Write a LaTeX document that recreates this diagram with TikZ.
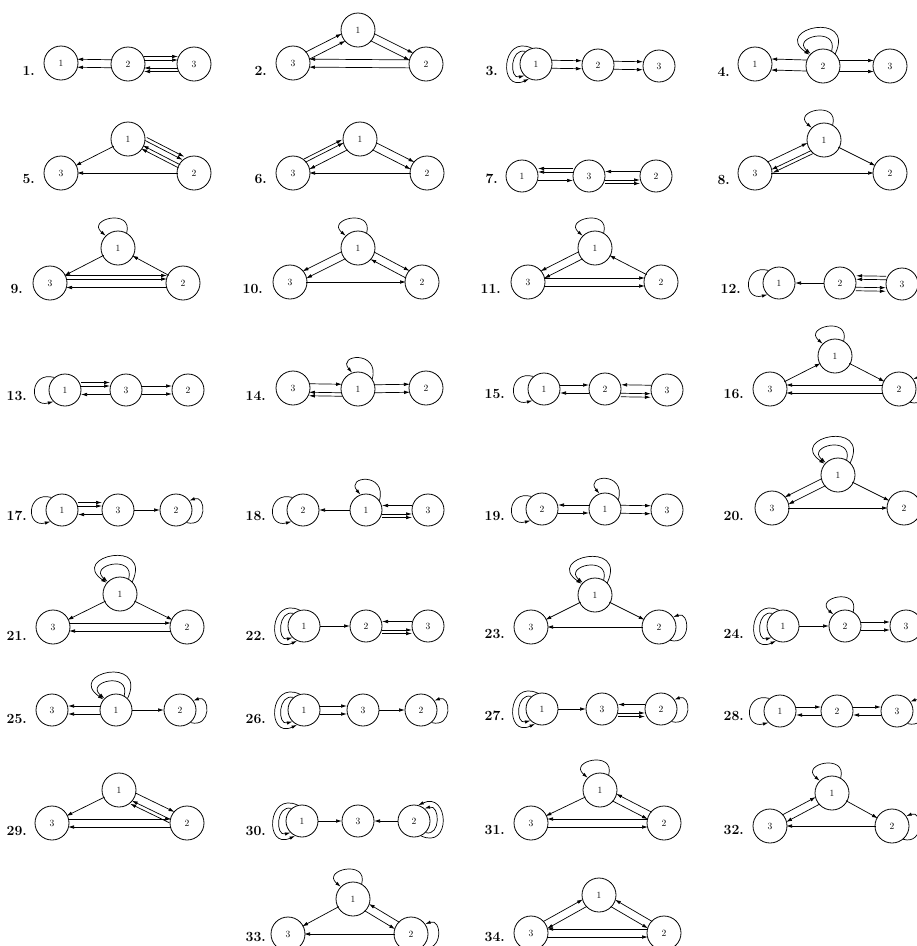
\documentclass[tikz,border=0pt]{standalone}
\usepackage{fontspec}
\usepackage{tikz}
\usetikzlibrary{arrows.meta,calc}

\begin{document}
\begin{tikzpicture}[x=1pt,y=-1pt,
  st/.style={circle,draw,line width=0.8pt,minimum size=34pt,inner sep=0pt,font=\fontsize{9.5}{10}\selectfont},
  sm/.style={st,minimum size=32pt},
  num/.style={anchor=base east,inner sep=0pt,font=\fontsize{14}{17}\selectfont\bfseries},
  e/.style={line width=0.7pt,-{Latex[length=6pt,width=3.6pt]},shorten <=16pt,shorten >=16pt,ofs=0pt},
  ofs/.style={to path={($(\tikztostart)!#1!90:(\tikztotarget)$) -- ($(\tikztotarget)!#1!-90:(\tikztostart)$)}},
  lp/.style={line width=0.7pt,-{Latex[length=5.5pt,width=3.4pt]}},
  tl/.style={to path={(\tikztostart.60) .. controls +(75:26pt) and +(140:26pt) .. (\tikztostart.135)}},
  tr/.style={to path={(\tikztostart.35) .. controls +(75:30pt) and +(130:24pt) .. (\tikztostart.110)}},
  tlo/.style={to path={(\tikztostart.45) .. controls +(65:48pt) and +(145:46pt) .. (\tikztostart.140)}},
  ll/.style={to path={(\tikztostart.130) .. controls +(165:26pt) and +(195:26pt) .. (\tikztostart.225)}},
  llo/.style={to path={(\tikztostart.105) .. controls +(155:34pt) and +(205:34pt) .. (\tikztostart.245)}},
  lli/.style={to path={(\tikztostart.130) .. controls +(165:16pt) and +(195:16pt) .. (\tikztostart.225)}},
  rl/.style={to path={(\tikztostart.310) .. controls +(345:22pt) and +(20:18pt) .. (\tikztostart.35)}},
  rlo/.style={to path={(\tikztostart.295) .. controls +(335:34pt) and +(25:34pt) .. (\tikztostart.75)}},
  rli/.style={to path={(\tikztostart.315) .. controls +(345:16pt) and +(15:16pt) .. (\tikztostart.50)}}]
\useasboundingbox (0,0) rectangle (917,946);

\foreach \t/\x/\y in {1/35/75,2/267/75,3/498/75,4/730/76,5/35/183,6/267/183,7/498/183,8/730/184,
  9/23/293,10/263/293,11/501/293,12/741/293,13/27/400,14/266/400,15/505/398,16/744/398,
  17/27/520,18/266/520,19/505/520,20/744/520,21/27/640,22/266/640,23/505/638,24/744/638,
  25/27/723,26/266/723,27/505/720,28/744/720,29/27/835,30/266/835,31/505/834,32/744/834,
  33/266/941,34/505/941}
  \node[num] (lab\t) at (\x,\y) {\t.};

\foreach \k/\x/\y in {1/61/63,2/128/64,3/194/64} \node[st] (g1n\k) at (\x,\y) {\k};
\foreach \k/\x/\y in {1/358/30,3/293/63,2/426/64} \node[st] (g2n\k) at (\x,\y) {\k};
\foreach \k/\x/\y in {1/536/64,2/598/65,3/659/66} \node[sm] (g3n\k) at (\x,\y) {\k};
\foreach \k/\x/\y in {1/755/64,2/823/66,3/890/66} \node[st] (g4n\k) at (\x,\y) {\k};
\foreach \k/\x/\y in {1/128/139,3/61/173,2/194/173} \node[st] (g5n\k) at (\x,\y) {\k};
\foreach \k/\x/\y in {1/360/139,3/293/173,2/427/173} \node[st] (g6n\k) at (\x,\y) {\k};
\foreach \k/\x/\y in {1/522/176,3/589/176,2/656/176} \node[sm] (g7n\k) at (\x,\y) {\k};
\foreach \k/\x/\y in {1/824/140,3/755/173,2/890/173} \node[st] (g8n\k) at (\x,\y) {\k};
\foreach \k/\x/\y in {1/118/248,3/50/283,2/183/283} \node[st] (g9n\k) at (\x,\y) {\k};
\foreach \k/\x/\y in {1/358/248,3/290/282,2/422/282} \node[st] (g10n\k) at (\x,\y) {\k};
\foreach \k/\x/\y in {1/595/248,3/528/282,2/661/282} \node[st] (g11n\k) at (\x,\y) {\k};
\foreach \k/\x/\y in {1/779/283,2/840/283,3/902/284} \node[sm] (g12n\k) at (\x,\y) {\k};
\foreach \k/\x/\y in {1/65/390,3/126/390,2/188/390} \node[sm] (g13n\k) at (\x,\y) {\k};
\foreach \k/\x/\y in {3/293/388,1/358/389,2/426/388} \node[st] (g14n\k) at (\x,\y) {\k};
\foreach \k/\x/\y in {1/544/389,2/605/389,3/667/390} \node[sm] (g15n\k) at (\x,\y) {\k};
\foreach \k/\x/\y in {1/835/356,3/770/389,2/899/389} \node[st] (g16n\k) at (\x,\y) {\k};
\foreach \k/\x/\y in {1/62/510,3/118/510,2/176/510} \node[sm] (g17n\k) at (\x,\y) {\k};
\foreach \k/\x/\y in {2/303/510,1/366/510,3/428/510} \node[sm] (g18n\k) at (\x,\y) {\k};
\foreach \k/\x/\y in {2/542/509,1/605/509,3/667/510} \node[sm] (g19n\k) at (\x,\y) {\k};
\foreach \k/\x/\y in {1/838/475,3/772/508,2/904/508} \node[st] (g20n\k) at (\x,\y) {\k};
\foreach \k/\x/\y in {1/120/594,3/53/627,2/187/627} \node[st] (g21n\k) at (\x,\y) {\k};
\foreach \k/\x/\y in {1/304/626,2/366/626,3/428/626} \node[sm] (g22n\k) at (\x,\y) {\k};
\foreach \k/\x/\y in {1/595/595,3/531/627,2/659/627} \node[st] (g23n\k) at (\x,\y) {\k};
\foreach \k/\x/\y in {1/783/626,2/845/626,3/906/626} \node[sm] (g24n\k) at (\x,\y) {\k};
\foreach \k/\x/\y in {3/52/710,1/116/710,2/180/710} \node[sm] (g25n\k) at (\x,\y) {\k};
\foreach \k/\x/\y in {1/304/710,3/363/710,2/421/710} \node[sm] (g26n\k) at (\x,\y) {\k};
\foreach \k/\x/\y in {1/542/709,3/602/709,2/661/709} \node[sm] (g27n\k) at (\x,\y) {\k};
\foreach \k/\x/\y in {1/780/711,2/837/711,3/897/711} \node[sm] (g28n\k) at (\x,\y) {\k};
\foreach \k/\x/\y in {1/119/790,3/52/823,2/187/823} \node[st] (g29n\k) at (\x,\y) {\k};
\foreach \k/\x/\y in {1/302/821,3/358/821,2/414/821} \node[sm] (g30n\k) at (\x,\y) {\k};
\foreach \k/\x/\y in {1/600/790,3/531/823,2/664/823} \node[st] (g31n\k) at (\x,\y) {\k};
\foreach \k/\x/\y in {1/832/793,3/770/826,2/892/826} \node[st] (g32n\k) at (\x,\y) {\k};
\foreach \k/\x/\y in {1/353/899,3/288/934,2/411/934} \node[st] (g33n\k) at (\x,\y) {\k};
\foreach \k/\x/\y in {1/599/895,3/531/933,2/664/933} \node[st] (g34n\k) at (\x,\y) {\k};

\draw[e] (g1n2) edge[ofs=4pt] (g1n1) edge[ofs=-4pt] (g1n1) edge[ofs=7.5pt] (g1n3) edge[ofs=4pt] (g1n3)
  (g1n3) edge[ofs=4pt] (g1n2) edge[ofs=7.5pt] (g1n2);
\draw[e] (g2n3) edge[ofs=4pt] (g2n1) edge[ofs=-4pt] (g2n1)
  (g2n1) edge[ofs=4pt] (g2n2) edge[ofs=-4pt] (g2n2)
  (g2n2) edge[ofs=4pt] (g2n3) edge[ofs=-4pt] (g2n3);
\draw[e] (g3n1) edge[ofs=4pt] (g3n2) edge[ofs=-4pt] (g3n2)
  (g3n2) edge[ofs=4pt] (g3n3) edge[ofs=-4pt] (g3n3);
\draw[lp] (g3n1) edge[llo] (g3n1) edge[lli] (g3n1);
\draw[e] (g4n2) edge[ofs=5.5pt] (g4n1) edge[ofs=-5.5pt] (g4n1) edge[ofs=5.5pt] (g4n3) edge[ofs=-5.5pt] (g4n3);
\draw[lp] (g4n2) edge[tlo] (g4n2) edge[tl] (g4n2);

\draw[e] (g5n1) edge (g5n3) edge[ofs=10pt] (g5n2) edge[ofs=6.5pt] (g5n2)
  (g5n2) edge (g5n3) edge[ofs=-1pt] (g5n1) edge[ofs=2.5pt] (g5n1);
\draw[e] (g6n3) edge[ofs=7.5pt] (g6n1) edge[ofs=4pt] (g6n1)
  (g6n1) edge[ofs=4pt] (g6n3) edge[ofs=4pt] (g6n2) edge[ofs=-4pt] (g6n2)
  (g6n2) edge (g6n3);
\draw[e] (g7n3) edge[ofs=-7.5pt] (g7n1) edge[ofs=-4pt] (g7n1) edge[ofs=-4pt] (g7n2) edge[ofs=-7.5pt] (g7n2)
  (g7n1) edge[ofs=-4.5pt] (g7n3) (g7n2) edge[ofs=-4.5pt] (g7n3);
\draw[e] (g8n3) edge[ofs=4.5pt] (g8n1) edge (g8n2)
  (g8n1) edge[ofs=4pt] (g8n3) edge[ofs=7.5pt] (g8n3) edge (g8n2);
\draw[lp] (g8n1) edge[tl] (g8n1);

\draw[e] (g9n1) edge (g9n3) (g9n2) edge (g9n1) edge[ofs=4.5pt] (g9n3)
  (g9n3) edge[ofs=7.5pt] (g9n2) edge[ofs=4pt] (g9n2);
\draw[lp] (g9n1) edge[tl] (g9n1);
\draw[e] (g10n1) edge[ofs=4pt] (g10n3) edge[ofs=-4pt] (g10n3) edge[ofs=4pt] (g10n2)
  (g10n2) edge[ofs=4pt] (g10n1) (g10n3) edge (g10n2);
\draw[lp] (g10n1) edge[tl] (g10n1);
\draw[e] (g11n1) edge[ofs=4pt] (g11n3) edge[ofs=-4pt] (g11n3) (g11n2) edge (g11n1)
  (g11n3) edge[ofs=4pt] (g11n2) edge[ofs=-4pt] (g11n2);
\draw[lp] (g11n1) edge[tl] (g11n1);
\draw[e] (g12n2) edge (g12n1) edge[ofs=-4pt] (g12n3) edge[ofs=-7.5pt] (g12n3)
  (g12n3) edge[ofs=-7.5pt] (g12n2) edge[ofs=-4pt] (g12n2);
\draw[lp] (g12n1) edge[ll] (g12n1);

\draw[e] (g13n1) edge[ofs=7.5pt] (g13n3) edge[ofs=4pt] (g13n3)
  (g13n3) edge[ofs=4.5pt] (g13n1) edge[ofs=4pt] (g13n2) edge[ofs=-4pt] (g13n2);
\draw[lp] (g13n1) edge[ll] (g13n1);
\draw[e] (g14n3) edge[ofs=4.5pt] (g14n1)
  (g14n1) edge[ofs=4pt] (g14n3) edge[ofs=7.5pt] (g14n3) edge[ofs=4pt] (g14n2) edge[ofs=-4pt] (g14n2);
\draw[lp] (g14n1) edge[tr] (g14n1);
\draw[e] (g15n1) edge[ofs=4pt] (g15n2)
  (g15n2) edge[ofs=4pt] (g15n1) edge[ofs=-4pt] (g15n3) edge[ofs=-7.5pt] (g15n3)
  (g15n3) edge[ofs=-4.5pt] (g15n2);
\draw[lp] (g15n1) edge[ll] (g15n1);
\draw[e] (g16n3) edge (g16n1) (g16n1) edge (g16n2) (g16n2) edge[ofs=4pt] (g16n3) edge[ofs=-4pt] (g16n3);
\draw[lp] (g16n1) edge[tl] (g16n1) (g16n2) edge[rl] (g16n2);

\draw[e] (g17n1) edge[ofs=7.5pt] (g17n3) edge[ofs=4pt] (g17n3)
  (g17n3) edge[ofs=4.5pt] (g17n1) edge (g17n2);
\draw[lp] (g17n1) edge[ll] (g17n1) (g17n2) edge[rl] (g17n2);
\draw[e] (g18n1) edge (g18n2) edge[ofs=-4pt] (g18n3) edge[ofs=-7.5pt] (g18n3)
  (g18n3) edge[ofs=-4.5pt] (g18n1);
\draw[lp] (g18n2) edge[ll] (g18n2) (g18n1) edge[tr] (g18n1);
\draw[e] (g19n1) edge[ofs=-4pt] (g19n2) edge[ofs=4pt] (g19n3) edge[ofs=-4pt] (g19n3)
  (g19n2) edge[ofs=-4pt] (g19n1);
\draw[lp] (g19n2) edge[ll] (g19n2) (g19n1) edge[tr] (g19n1);
\draw[e] (g20n1) edge[ofs=4pt] (g20n3) edge[ofs=-4pt] (g20n3) edge (g20n2) (g20n3) edge (g20n2);
\draw[lp] (g20n1) edge[tlo] (g20n1) edge[tl] (g20n1);

\draw[e] (g21n1) edge (g21n3) edge (g21n2) (g21n3) edge[ofs=4pt] (g21n2) (g21n2) edge[ofs=4pt] (g21n3);
\draw[lp] (g21n1) edge[tlo] (g21n1) edge[tl] (g21n1);
\draw[e] (g22n1) edge (g22n2) (g22n3) edge[ofs=-4.5pt] (g22n2)
  (g22n2) edge[ofs=-4pt] (g22n3) edge[ofs=-7.5pt] (g22n3);
\draw[lp] (g22n1) edge[llo] (g22n1) edge[lli] (g22n1);
\draw[e] (g23n1) edge (g23n3) edge (g23n2) (g23n2) edge (g23n3);
\draw[lp] (g23n1) edge[tlo] (g23n1) edge[tl] (g23n1) (g23n2) edge[rl] (g23n2);
\draw[e] (g24n1) edge (g24n2) (g24n2) edge[ofs=4pt] (g24n3) edge[ofs=-4pt] (g24n3);
\draw[lp] (g24n1) edge[llo] (g24n1) edge[lli] (g24n1) (g24n2) edge[tl] (g24n2);

\draw[e] (g25n1) edge[ofs=4pt] (g25n3) edge[ofs=-4pt] (g25n3) edge (g25n2);
\draw[lp] (g25n1) edge[tlo] (g25n1) edge[tl] (g25n1) (g25n2) edge[rl] (g25n2);
\draw[e] (g26n1) edge[ofs=4pt] (g26n3) edge[ofs=-4pt] (g26n3) (g26n3) edge (g26n2);
\draw[lp] (g26n1) edge[llo] (g26n1) edge[lli] (g26n1) (g26n2) edge[rl] (g26n2);
\draw[e] (g27n1) edge (g27n3) (g27n2) edge[ofs=-4.5pt] (g27n3)
  (g27n3) edge[ofs=-4pt] (g27n2) edge[ofs=-7.5pt] (g27n2);
\draw[lp] (g27n1) edge[llo] (g27n1) edge[lli] (g27n1) (g27n2) edge[rl] (g27n2);
\draw[e] (g28n1) edge[ofs=4pt] (g28n2) (g28n2) edge[ofs=4pt] (g28n1) edge[ofs=4pt] (g28n3)
  (g28n3) edge[ofs=4pt] (g28n2);
\draw[lp] (g28n1) edge[ll] (g28n1) (g28n3) edge[rl] (g28n3);

\draw[e] (g29n1) edge (g29n3) edge[ofs=4.5pt] (g29n2)
  (g29n2) edge[ofs=4pt] (g29n1) edge[ofs=7.5pt] (g29n1) edge[ofs=4pt] (g29n3) (g29n3) edge[ofs=4pt] (g29n2);
\draw[e] (g30n1) edge (g30n3) (g30n2) edge (g30n3);
\draw[lp] (g30n1) edge[llo] (g30n1) edge[lli] (g30n1) (g30n2) edge[rlo] (g30n2) edge[rli] (g30n2);
\draw[e] (g31n1) edge (g31n3) edge[ofs=-4pt] (g31n2)
  (g31n2) edge[ofs=-4pt] (g31n1) edge[ofs=-4pt] (g31n3) (g31n3) edge[ofs=-4pt] (g31n2);
\draw[lp] (g31n1) edge[tl] (g31n1);
\draw[e] (g32n3) edge[ofs=4pt] (g32n1) (g32n1) edge[ofs=4pt] (g32n3) edge (g32n2) (g32n2) edge (g32n3);
\draw[lp] (g32n1) edge[tl] (g32n1) (g32n2) edge[rl] (g32n2);

\draw[e] (g33n1) edge (g33n3) edge[ofs=-4pt] (g33n2) (g33n2) edge[ofs=-4pt] (g33n1) edge (g33n3);
\draw[lp] (g33n1) edge[tl] (g33n1) (g33n2) edge[rl] (g33n2);
\draw[e] (g34n3) edge[ofs=4pt] (g34n1) edge[ofs=-4pt] (g34n2)
  (g34n1) edge[ofs=4pt] (g34n3) edge[ofs=-4pt] (g34n2)
  (g34n2) edge[ofs=-4pt] (g34n1) edge[ofs=-4pt] (g34n3);
\end{tikzpicture}
\end{document}
